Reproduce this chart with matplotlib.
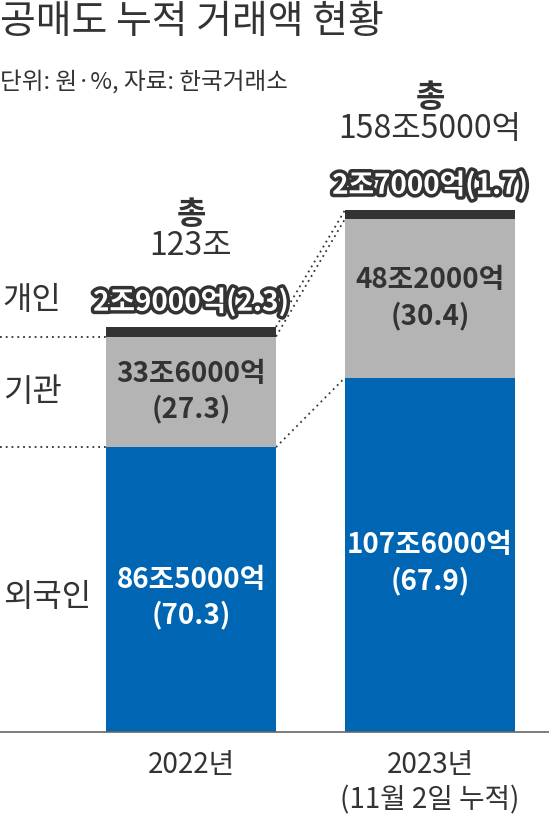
import matplotlib
matplotlib.use("Agg")
import matplotlib.pyplot as plt
import matplotlib.patheffects as pe

plt.rcParams['font.family'] = ['Noto Sans CJK KR', 'DejaVu Sans']

# ---- data ----
years = ['2022년', '2023년']
year_notes = ['', '(11월 2일 누적)']
categories = ['외국인', '기관', '개인']
foreign = [86.5, 107.6]   # 조원
inst = [33.6, 48.2]
indiv = [2.9, 2.7]
share_foreign = [70.3, 67.9]
share_inst = [27.3, 30.4]
share_indiv = [2.3, 1.7]
total_labels = ['123조', '158조5000억']

BLUE = '#0066b3'
GRAY = '#b4b4b4'
DARK = '#333333'


def fmt(v):
    jo = int(v)
    eok = int(round((v - jo) * 10000))
    return f'{jo}조{eok}억' if eok else f'{jo}조'


W, H = 549, 819
fig = plt.figure(figsize=(W / 100, H / 100), dpi=100)
ax = fig.add_axes([0, 0, 1, 1])
ax.axis('off')

S = 3.293          # px per 조
BASE = 732         # baseline pixel (from top)
ax.set_ylim(-(H - BASE) / S, BASE / S)
PX = 239.0
ax.set_xlim(-191 / PX, (W - 191) / PX)


def py(p):
    return (BASE - p) / S


x = [0, 1]
w = 170 / PX
bottom2 = [a + b for a, b in zip(foreign, inst)]
tops = [a + b for a, b in zip(bottom2, indiv)]

ax.bar(x, foreign, width=w, color=BLUE, zorder=2)
ax.bar(x, inst, width=w, bottom=foreign, color=GRAY, zorder=2)
ax.bar(x, indiv, width=w, bottom=bottom2, color=DARK, zorder=2)

# baseline
ax.axhline(0, color='#666666', lw=1.2, zorder=3)

# dotted guide lines on the left
xl = ax.get_xlim()[0]
for yv in (foreign[0], bottom2[0]):
    ax.plot([xl, x[0] - w / 2], [yv, yv], ls=(0, (1, 2.2)), color=DARK, lw=1.3, zorder=1)

# connecting dotted lines between bars
for y0, y1 in ((foreign[0], foreign[1]), (bottom2[0], bottom2[1]), (tops[0], tops[1])):
    ax.plot([x[0] + w / 2, x[1] - w / 2], [y0, y1], ls=(0, (1, 2.2)), color=DARK, lw=1.3, zorder=1)

# category labels on left
cat_y = [py(597), py(392), py(300)]
for c, yy in zip(categories, cat_y):
    ax.text(0.005, yy, c, transform=ax.get_yaxis_transform(), ha='left', va='center',
            fontsize=23, color=DARK)

# in-bar labels
for i in range(2):
    ax.text(x[i], foreign[i] / 2 - 2.5, f'{fmt(foreign[i])}\n({share_foreign[i]})', ha='center',
            va='center', fontsize=20, color='white', fontweight='bold', linespacing=1.3, zorder=4)
    ax.text(x[i], foreign[i] + inst[i] / 2, f'{fmt(inst[i])}\n({share_inst[i]})', ha='center',
            va='center', fontsize=20, color=DARK, fontweight='bold', linespacing=1.3, zorder=4)
    # outlined personal label
    ax.text(x[i], tops[i] + 7.5, f'{fmt(indiv[i])}({share_indiv[i]})', ha='center', va='center',
            fontsize=20, color='white', fontweight='bold', zorder=5,
            path_effects=[pe.withStroke(linewidth=5, foreground=DARK)])
    # total
    ax.text(x[i], tops[i] + 24.5, total_labels[i], ha='center', va='center', fontsize=23,
            color=DARK, zorder=4)
    ax.text(x[i], tops[i] + 34, '총', ha='center', va='center', fontsize=23,
            color=DARK, fontweight='bold', zorder=4)
    # year labels
    ax.text(x[i], py(765), years[i], ha='center', va='center', fontsize=20, color=DARK)
    if year_notes[i]:
        ax.text(x[i], py(800), year_notes[i], ha='center', va='center', fontsize=20, color=DARK)

# title and subtitle
fig.text(0.0, 1 - 22 / H, '공매도 누적 거래액 현황', ha='left', va='center', fontsize=28,
         color=DARK)
fig.text(0.0, 1 - 82 / H, '단위: 원·%, 자료: 한국거래소', ha='left', va='center', fontsize=17,
         color=DARK)

fig.savefig('out.png', dpi=100)
